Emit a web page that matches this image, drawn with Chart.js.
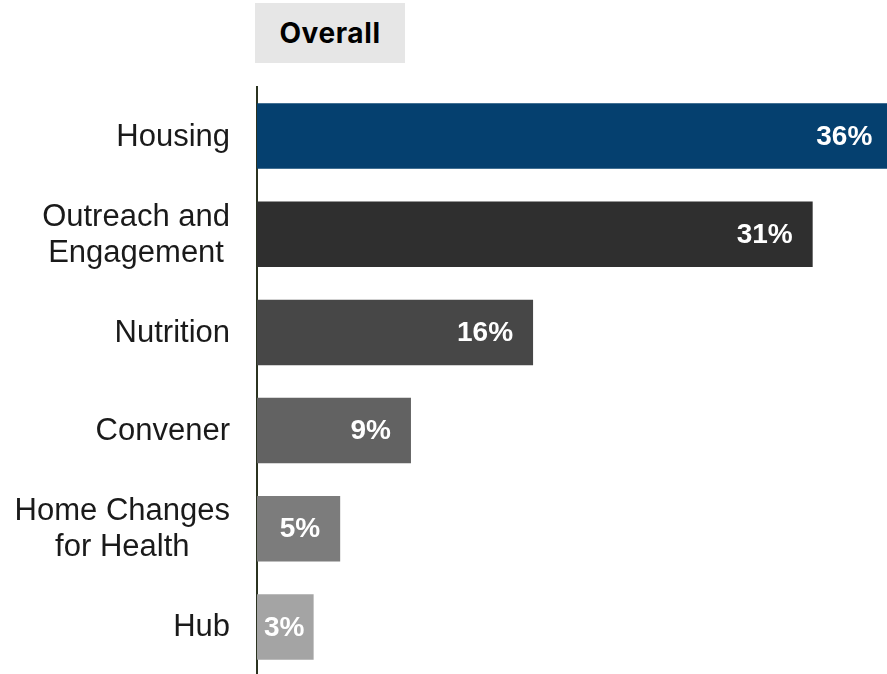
<!DOCTYPE html>
<html>
<head>
<meta charset="utf-8">
<script src="https://cdn.jsdelivr.net/npm/chart.js@4.4.1/dist/chart.umd.min.js"></script>
<style>
  html, body { margin: 0; padding: 0; background: #fff; overflow: hidden; }
  #wrap { position: relative; width: 887px; height: 674px; }
  #chart { position: absolute; left: 0; top: 0; }
  #panelTitle {
    position: absolute; left: 255px; top: 3px; width: 150px; height: 60px;
    background: #e6e6e6; color: #000;
    font: 700 28px Inter, "Open Sans", sans-serif; letter-spacing: 0.6px;
    display: flex; align-items: center; justify-content: center;
  }
</style>
</head>
<body>
<div id="wrap">
  <canvas id="chart" width="887" height="676"></canvas>
  <div id="panelTitle">Overall</div>
</div>
<script>
// Data
const categories = ['Housing', ['Outreach and', 'Engagement'], 'Nutrition', 'Convener', ['Home Changes', 'for Health'], 'Hub'];
const shares = [35.9, 31.4, 15.6, 8.7, 4.7, 3.2];
const barColors = ['#05406f', '#2f2f2f', '#474747', '#626262', '#7c7c7c', '#a4a4a4'];

// Category labels: block right-aligned, lines centered inside the block
const categoryLabels = {
    id: 'categoryLabels',
    afterDraw(chart) {
        const ctx = chart.ctx;
        const yScale = chart.scales.y;
        ctx.save();
        ctx.font = '31px "Liberation Sans", Arial, sans-serif';
        ctx.fillStyle = '#1a1a1a';
        ctx.textAlign = 'center';
        ctx.textBaseline = 'middle';
        const right = chart.chartArea.left - 27;
        const lineH = 36;
        categories.forEach((label, i) => {
            const lines = Array.isArray(label) ? label : [label];
            const maxW = Math.max(...lines.map(l => ctx.measureText(l).width));
            const cx = right - maxW / 2;
            const cy = yScale.getPixelForValue(i);
            lines.forEach((line, j) => {
                ctx.fillText(line, cx, cy + (j - (lines.length - 1) / 2) * lineH + 1);
            });
        });
        ctx.restore();
    }
};

// Value labels inside the bar end
const valueLabels = {
    id: 'valueLabels',
    afterDatasetsDraw(chart) {
        const ctx = chart.ctx;
        const meta = chart.getDatasetMeta(0);
        ctx.save();
        ctx.font = 'bold 28px "Liberation Sans", Arial, sans-serif';
        ctx.fillStyle = '#ffffff';
        ctx.textAlign = 'left';
        ctx.textBaseline = 'middle';
        meta.data.forEach((bar, i) => {
            const text = Math.round(shares[i]) + '%';
            const w = ctx.measureText(text).width;
            let x = bar.x - 20 - w;
            if (x < bar.base + 7) x = bar.base + 7;
            ctx.fillText(text, x, bar.y + 1);
        });
        ctx.restore();
    }
};

new Chart(document.getElementById('chart').getContext('2d'), {
    type: 'bar',
    data: {
        labels: categories,
        datasets: [{
            data: shares,
            backgroundColor: barColors,
            borderWidth: 0,
            barPercentage: 0.667,
            categoryPercentage: 1
        }]
    },
    options: {
        indexAxis: 'y',
        responsive: false,
        animation: false,
        layout: { padding: { left: 257, top: 87, right: 0, bottom: 0 } },
        plugins: { legend: { display: false }, tooltip: { enabled: false } },
        scales: {
            x: { display: false, min: 0, max: 35.6 },
            y: {
                grid: { display: false, drawTicks: false },
                ticks: { display: false },
                border: { display: true, color: '#2b3320', width: 2 },
                afterFit(scale) { scale.width = 0; }
            }
        }
    },
    plugins: [categoryLabels, valueLabels]
});
</script>
</body>
</html>
